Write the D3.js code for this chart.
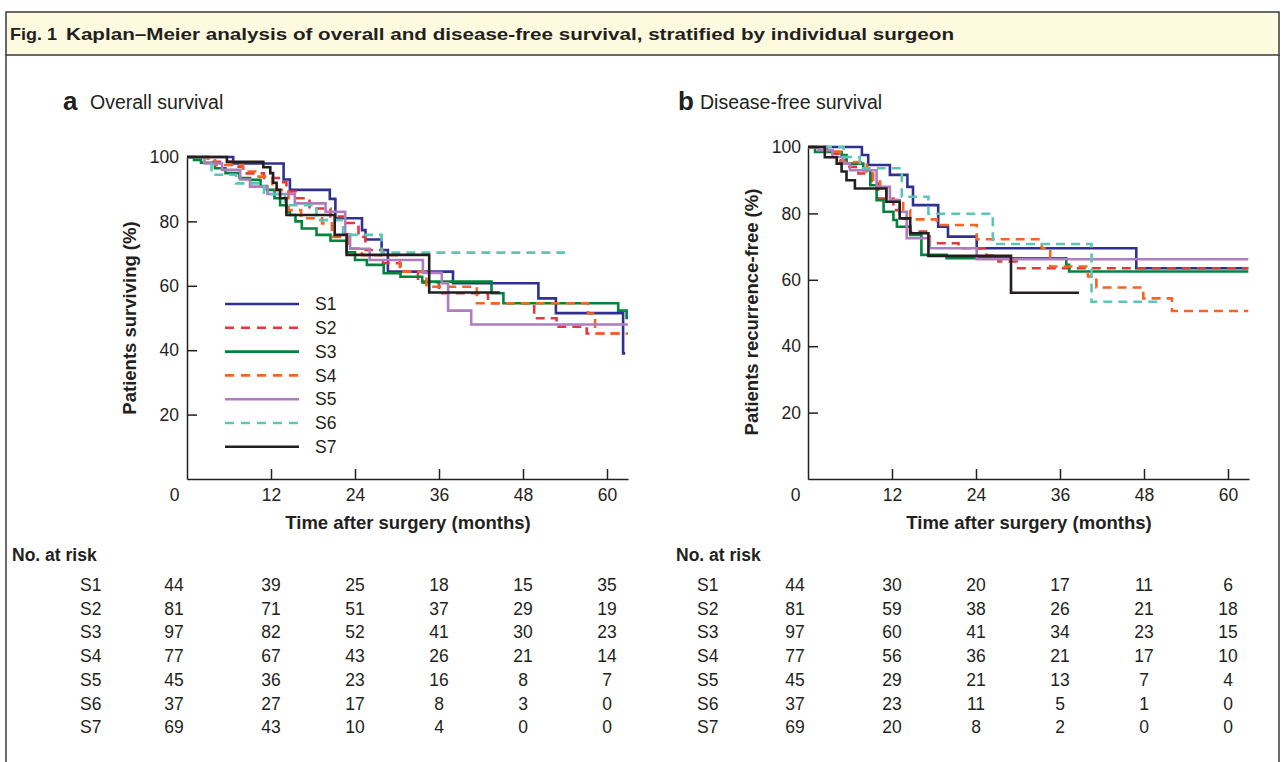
<!DOCTYPE html>
<html>
<head>
<meta charset="utf-8">
<script src="https://cdn.jsdelivr.net/npm/d3@7"></script>
<style>
  body { margin: 0; background: #fff; }
  text { font-family: 'Liberation Sans', Arial, Helvetica, sans-serif; fill: #231f20; }
</style>
</head>
<body>
<script>
'use strict'
// surgeons, colours, dash style
var surgeons = ['S1', 'S2', 'S3', 'S4', 'S5', 'S6', 'S7']
var colors = ['#2e3192', '#e03a3e', '#00843d', '#f26522', '#b07cc0', '#5bc5b8', '#231f20']
var dashed = [false, true, false, true, false, true, false]
var tickMonths = [0, 12, 24, 36, 48, 60]
var tickPct = [20, 40, 60, 80, 100]

// overall survival, [month, % surviving] at each step
var osS1 = [[0,100],[6.6,98],[13.8,93],[14.7,89.8],[20.4,87],[21.2,81],[25,77.3],[25.5,74.4],[27.8,71.1],[28.7,64.4],[38,60.8],[50.2,56.1],[52.7,51.5],[62.3,39],[62.6,39]]
var osS2 = [[0,100],[3,98.5],[6.5,97],[8,94.9],[11,93.5],[13.5,92.2],[14.2,89.3],[15.5,87.2],[17.5,84],[20.5,81.5],[22.5,79.5],[24.5,75.2],[25.5,71.1],[28,67],[30.5,64.4],[33,61],[36,57.7],[43,54.6],[49.6,49.9],[52.8,47.3],[57.1,45.2],[62.3,45.2]]
var osS3 = [[0,100],[1,99.1],[2,98.2],[4,96.5],[5.5,95],[7.5,93.5],[9,92.9],[10.5,91],[11.4,89.8],[12.5,87.2],[13.3,85],[14.2,83],[14.7,82],[15.5,80],[16.4,77.8],[18.5,75.8],[20.5,74],[22.8,70.4],[24,68],[25.7,66.5],[28.1,63.9],[30.5,62.8],[33.6,61.3],[43.5,57.7],[45.2,54.6],[61.6,52.3],[62.8,50],[63,50]]
var osS4 = [[0,100],[3,99],[4,97.5],[8,95.5],[10,93.9],[12.2,89.8],[14.5,83.5],[16.3,81],[19.3,79.4],[20.7,75.2],[23,71.6],[25,69.5],[30.4,64.4],[34.2,59.7],[41.4,54.6],[57.3,51.4],[58.3,45.2],[63,45.2]]
var osS5 = [[0,100],[2.5,98],[5,96],[7.6,93],[9,90.8],[11.5,88.5],[15.4,85.6],[19.8,83],[22.6,76],[23.3,71.5],[26.1,68],[33.7,64],[36.4,60.8],[37.3,52.3],[40.6,48],[63,48]]
var osS6 = [[0,100],[3.5,94.5],[7,91.8],[11,88.5],[14,85],[18.5,80.4],[22.3,75.8],[27.8,70.3],[54,70.3]]
var osS7 = [[0,100],[5.7,98.5],[10.9,96.8],[11.9,95],[12.3,92],[12.8,89.8],[13.3,87.2],[14.2,82],[21.1,75.8],[22.8,69.6],[34.6,57.9],[44.7,57.9]]

// disease-free survival, [month, % recurrence-free]
var dfsS1 = [[0,100],[7.7,97.6],[8.6,94.6],[11.7,91.6],[14.2,88],[15,82.5],[18.6,76],[20,73],[24.1,69.5],[46.9,63.5],[62.9,63.5]]
var dfsS2 = [[0,100],[2.7,98],[4.5,96],[5.5,94],[7.2,92],[9.1,89],[10,84.5],[12.2,81],[13.1,78.5],[14.6,74.5],[17.4,71],[21.5,69.5],[25.5,67.3],[27.2,65.5],[29.8,63.5],[62.9,63.5]]
var dfsS3 = [[0,100],[1,98.5],[4.8,97.6],[5.5,95],[7.9,93],[8.9,88.5],[9.8,84],[10.8,80.5],[12.2,78],[12.7,76],[14.6,73.5],[16.2,67.5],[19.8,66.5],[36.9,64.5],[37.3,62.5],[62.9,62.5]]
var dfsS4 = [[0,100],[2.4,98.6],[4.6,95.5],[8.4,92.6],[9.3,89.6],[10.3,87],[11.2,84],[13.6,81],[14.6,78.2],[18.4,76.5],[24.1,72.2],[33.4,69.5],[34.6,64],[40,61],[41.2,57.7],[47.9,54.4],[52,50.6],[62.9,50.6]]
var dfsS5 = [[0,100],[1.5,99],[3.5,97],[5,95],[6,93],[9.8,88],[11.7,84],[13.1,80.5],[14.1,72.5],[17.4,69.5],[24.1,66.2],[62.9,66.2]]
var dfsS6 = [[0,100],[5.1,97],[7.4,93.6],[13.4,85],[17.2,79.9],[26.4,70.8],[40.5,53.4],[50.3,53.4]]
var dfsS7 = [[0,100],[2.4,96.9],[4.1,95],[4.8,92.6],[5.5,90],[6.7,87.5],[11.2,83.5],[13.1,78.5],[14.6,74],[17.2,67.2],[29,56.1],[38.7,56.1]]

// numbers at risk, one row per surgeon, one column per tick month
var riskOS = [[44,39,25,18,15,35],[81,71,51,37,29,19],[97,82,52,41,30,23],[77,67,43,26,21,14],[45,36,23,16,8,7],[37,27,17,8,3,0],[69,43,10,4,0,0]]
var riskDFS = [[44,30,20,17,11,6],[81,59,38,26,21,18],[97,60,41,34,23,15],[77,56,36,21,17,10],[45,29,21,13,7,4],[37,23,11,5,1,0],[69,20,8,2,0,0]]

var W = 1285, H = 762
var svg = d3.select('body').append('svg').attr('width', W).attr('height', H)

// frame and title band
svg.append('rect').attr('x', 6).attr('y', 12).attr('width', 1273).attr('height', 43)
  .attr('fill', '#fdfadf').attr('stroke', '#3a3a3a').attr('stroke-width', 1.5)
svg.append('path').attr('d', 'M6,55 V' + (H + 2) + ' M1279,55 V' + (H + 2))
  .attr('stroke', '#3a3a3a').attr('stroke-width', 1.5).attr('fill', 'none')
var title = svg.append('text').attr('y', 40)
  .attr('font-size', 16.5).attr('font-weight', 'bold')
  .style('font-family', "'Liberation Sans Narrow', 'Arial Narrow', 'Liberation Sans', Arial, sans-serif")
title.append('tspan').attr('x', 10)
  .attr('textLength', 47).attr('lengthAdjust', 'spacingAndGlyphs').text('Fig. 1')
title.append('tspan').attr('x', 66)
  .attr('textLength', 888).attr('lengthAdjust', 'spacingAndGlyphs')
  .text('Kaplan\u2013Meier analysis of overall and disease-free survival, stratified by individual surgeon')

var line = d3.line().curve(d3.curveStepAfter)

function drawPanel (p) {
  var x = d3.scaleLinear().domain([0, 63]).range([p.left, p.left + 441])
  var y = d3.scaleLinear().domain([0, 100]).range([479, p.top])
  var g = svg.append('g')

  // panel letter and heading
  g.append('text').attr('x', p.letterX).attr('y', 110)
    .attr('font-size', 26).attr('font-weight', 'bold').text(p.letter)
  g.append('text').attr('x', p.headX).attr('y', 109)
    .attr('font-size', 19.5).text(p.heading)

  // x axis, ticks pointing up into the plot
  var xa = g.append('g').attr('transform', 'translate(0,479)')
    .call(d3.axisBottom(x).tickValues(tickMonths).tickSizeInner(-10).tickSizeOuter(0).tickPadding(10))
  // y axis, ticks pointing right into the plot
  var ya = g.append('g').attr('transform', `translate(${p.left},0)`)
    .call(d3.axisLeft(y).tickValues(tickPct).tickSizeInner(-10).tickSizeOuter(0).tickPadding(p.yPad))
  ;[xa, ya].forEach(a => {
    a.selectAll('path, line').attr('stroke', '#231f20').attr('stroke-width', 1.5)
    a.selectAll('text').attr('font-size', 17.5).attr('fill', '#231f20')
      .attr('font-family', "'Liberation Sans', Arial, sans-serif")
  })
  // the 0 label sits left of the corner, without a tick
  xa.selectAll('.tick').filter(d => d === 0).each(function () {
    d3.select(this).select('line').remove()
    d3.select(this).select('text').attr('x', -13)
  })

  g.append('text').attr('x', p.left + 221).attr('y', 529).attr('text-anchor', 'middle')
    .attr('font-size', 18.5).attr('font-weight', 'bold').text('Time after surgery (months)')
  g.append('text').attr('transform', `translate(${p.yTitleX},${p.yTitleY}) rotate(-90)`)
    .attr('text-anchor', 'middle').attr('font-size', 18.5).attr('font-weight', 'bold').text(p.yTitle)

  line.x(d => x(d[0])).y(d => y(d[1]))
  p.series.forEach((s, i) => {
    g.append('path').attr('d', line(s))
      .attr('fill', 'none').attr('stroke', colors[i]).attr('stroke-width', 2.6)
      .attr('stroke-dasharray', dashed[i] ? '9,6' : null)
  })

  // numbers at risk
  g.append('text').attr('x', p.tableX).attr('y', 561)
    .attr('font-size', 17.5).attr('font-weight', 'bold').text('No. at risk')
  var colX = tickMonths.map(m => x(m) - (m === 0 ? 13 : 0))
  p.risk.forEach((row, i) => {
    var ry = 591 + i * 23.7
    g.append('text').attr('x', p.rowX).attr('y', ry).attr('font-size', 17.5).text(surgeons[i])
    row.forEach((v, j) => {
      g.append('text').attr('x', colX[j]).attr('y', ry).attr('text-anchor', 'middle')
        .attr('font-size', 17.5).text(v)
    })
  })
}

drawPanel({
  letter: 'a', heading: 'Overall survival', letterX: 63, headX: 90,
  left: 187, top: 157, yPad: 8,
  yTitle: 'Patients surviving (%)', yTitleX: 136, yTitleY: 318,
  series: [osS1, osS2, osS3, osS4, osS5, osS6, osS7],
  risk: riskOS, tableX: 12, rowX: 80
})
drawPanel({
  letter: 'b', heading: 'Disease-free survival', letterX: 678, headX: 700,
  left: 808, top: 147, yPad: 7,
  yTitle: 'Patients recurrence-free (%)', yTitleX: 758, yTitleY: 312,
  series: [dfsS1, dfsS2, dfsS3, dfsS4, dfsS5, dfsS6, dfsS7],
  risk: riskDFS, tableX: 676, rowX: 697
})

// legend in panel a
var leg = svg.append('g')
surgeons.forEach((s, i) => {
  var ly = 304 + i * 23.8
  leg.append('line').attr('x1', 225).attr('x2', 299).attr('y1', ly).attr('y2', ly)
    .attr('stroke', colors[i]).attr('stroke-width', 2.6)
    .attr('stroke-dasharray', dashed[i] ? '9,7' : null)
  leg.append('text').attr('x', 315).attr('y', ly).attr('dy', '0.35em')
    .attr('font-size', 17.5).text(s)
})
</script>
</body>
</html>
